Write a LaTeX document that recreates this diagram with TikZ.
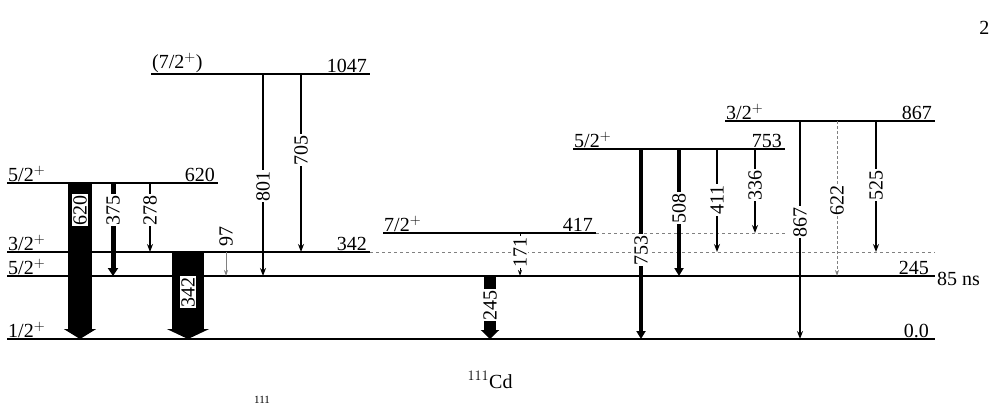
\documentclass[tikz,border=0pt]{standalone}
\usepackage{fontspec}
\setmainfont{Liberation Serif}
\usetikzlibrary{arrows.meta}
\begin{document}
\begin{tikzpicture}[x=1pt,y=-1pt,font=\fontsize{20}{22}\selectfont,
  lev/.style={line width=1.3pt},
  ghost/.style={gray,line width=1pt,dash pattern=on 3pt off 3pt},
  tr/.style={line width=1.3pt,-{Stealth[length=8pt,width=6pt]}},
  trthin/.style={line width=0.8pt,gray,-{Stealth[length=6pt,width=4pt]}},
  trdash/.style={line width=1pt,gray,dash pattern=on 3pt off 2pt,-{Stealth[length=6pt,width=4pt]}},
  lab/.style={rotate=90,fill=white,inner sep=1pt},
  spin/.style={anchor=south west,inner sep=1pt},
  en/.style={anchor=south east,inner sep=1pt}]
\useasboundingbox (0,0) rectangle (993,404);
\node[anchor=north east] (pg) at (993,18) {2};
% levels
\draw[lev] (7,339) coordinate (L0a) -- (935,339) coordinate (L0b);
\node[spin] (s0) at (L0a) {1/2$^+$}; \node[en] (e0) at (930,339) {0.0};
\draw[lev] (7,276) coordinate (L1a) -- (935,276) coordinate (L1b);
\node[spin] (s1) at (L1a) {5/2$^+$}; \node[en] (e1) at (930,276) {245};
\node[anchor=west,inner sep=1pt] (ns) at (936,279) {85 ns};
\draw[lev] (7,252) coordinate (L2a) -- (370,252) coordinate (L2b);
\draw[ghost] (L2b) -- (935,252);
\node[spin] (s2) at (L2a) {3/2$^+$}; \node[en] (e2) at (368,252) {342};
\draw[lev] (383,233) coordinate (L3a) -- (596,233) coordinate (L3b);
\draw[ghost] (L3b) -- (785,233);
\node[spin] (s3) at (L3a) {7/2$^+$}; \node[en] (e3) at (594,233) {417};
\draw[lev] (7,183) coordinate (L4a) -- (218,183) coordinate (L4b);
\node[spin] (s4) at (L4a) {5/2$^+$}; \node[en] (e4) at (216,183) {620};
\draw[lev] (151,74) coordinate (L5a) -- (370,74) coordinate (L5b);
\node[spin] (s5) at (L5a) {(7/2$^+$)}; \node[en] (e5) at (368,74) {1047};
\draw[lev] (573,149) coordinate (L6a) -- (785,149) coordinate (L6b);
\node[spin] (s6) at (L6a) {5/2$^+$}; \node[en] (e6) at (783,149) {753};
\draw[lev] (725,121) coordinate (L7a) -- (935,121) coordinate (L7b);
\node[spin] (s7) at (L7a) {3/2$^+$}; \node[en] (e7) at (933,121) {867};
% thick transitions
\draw[line width=24pt,-{Triangle[length=10pt,width=32pt]}] (80,183) coordinate (t620a) -- (80,339) coordinate (t620b);
\node[lab] (l620) at (80,210) {620};
\draw[line width=32pt,-{Triangle[length=10pt,width=42pt]}] (188,252) coordinate (t342a) -- (188,339) coordinate (t342b);
\node[lab] (l342) at (188,292) {342};
\draw[line width=12pt,-{Triangle[length=9pt,width=18pt]}] (490,276) coordinate (t245a) -- (490,339) coordinate (t245b);
\node[lab] (l245) at (490,305) {245};
\draw[line width=5pt,-{Triangle[length=8pt,width=10pt]}] (113,183) coordinate (t375a) -- (113,276) coordinate (t375b);
\node[lab] (l375) at (113,210) {375};
\draw[line width=3.5pt,-{Triangle[length=8pt,width=9pt]}] (641,149) coordinate (t753a) -- (641,339) coordinate (t753b);
\node[lab] (l753) at (641,250) {753};
\draw[line width=3.5pt,-{Triangle[length=8pt,width=9pt]}] (679,149) coordinate (t508a) -- (679,276) coordinate (t508b);
\node[lab] (l508) at (679,208) {508};
% thin transitions
\draw[tr] (150,183) coordinate (t278a) -- (150,252) coordinate (t278b);
\node[lab] (l278) at (150,210) {278};
\draw[trthin] (226,252) coordinate (t97a) -- (226,276) coordinate (t97b);
\node[rotate=90,inner sep=1pt] (l97) at (226,236) {97};
\draw[tr] (263,74) coordinate (t801a) -- (263,276) coordinate (t801b);
\node[lab] (l801) at (263,186) {801};
\draw[tr] (301,74) coordinate (t705a) -- (301,252) coordinate (t705b);
\node[lab] (l705) at (301,150) {705};
\draw[trdash,black] (520,233) coordinate (t171a) -- (520,276) coordinate (t171b);
\node[lab] (l171) at (520,252) {171};
\draw[tr] (717,149) coordinate (t411a) -- (717,252) coordinate (t411b);
\node[lab] (l411) at (717,200) {411};
\draw[tr] (755,149) coordinate (t336a) -- (755,233) coordinate (t336b);
\node[lab] (l336) at (755,185) {336};
\draw[tr] (800,121) coordinate (t867a) -- (800,339) coordinate (t867b);
\node[lab] (l867) at (800,222) {867};
\draw[trdash] (837,121) coordinate (t622a) -- (837,276) coordinate (t622b);
\node[lab] (l622) at (837,200) {622};
\draw[tr] (876,121) coordinate (t525a) -- (876,252) coordinate (t525b);
\node[lab] (l525) at (876,185) {525};
\node (cd) at (490,380) {$^{111}$Cd};
\node[font=\fontsize{11}{12}\selectfont,inner sep=0pt,anchor=south] (cut) at (262,404) {111};
\end{tikzpicture}
\end{document}
